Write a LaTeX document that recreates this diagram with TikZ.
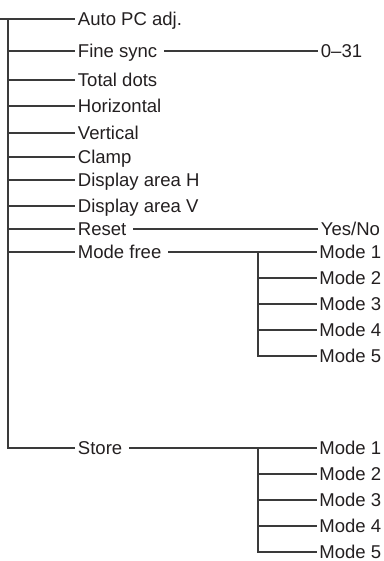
\documentclass[tikz,border=0pt]{standalone}
\usepackage{fontspec}
\setmainfont{Liberation Sans}
\definecolor{txt}{HTML}{231F20}
\definecolor{ln}{HTML}{3A3A3A}
\begin{document}
\begin{tikzpicture}[x=0.75pt,y=-0.75pt,
  lbl/.style={anchor=west,inner xsep=2pt,inner ysep=0pt,text height=9.9pt,text depth=0pt,
    font=\fontsize{13.9}{16}\selectfont,text=txt},
  conn/.style={draw=ln,line width=1pt},
  gap/.style={shorten <=3pt}]
\useasboundingbox (0,0) rectangle (384,561);
% first level
\node[lbl] (auto)  at (75,19)  {Auto PC adj.};
\node[lbl] (fine)  at (75,51)  {Fine sync};
\node[lbl] (dots)  at (75,80)  {Total dots};
\node[lbl] (hor)   at (75,106) {Horizontal};
\node[lbl] (ver)   at (75,133) {Vertical};
\node[lbl] (clamp) at (75,157) {Clamp};
\node[lbl] (dah)   at (75,180) {Display area H};
\node[lbl] (dav)   at (75,206) {Display area V};
\node[lbl] (reset) at (75,229) {Reset};
\node[lbl] (free)  at (75,252) {Mode free};
\node[lbl] (store) at (75,448) {Store};
% second level
\node[lbl] (range) at (318,51)  {0–31};
\node[lbl] (yesno) at (318,229) {Yes/No};
\node[lbl] (fm1) at (316.5,252) {Mode 1};
\node[lbl] (fm2) at (316.5,278) {Mode 2};
\node[lbl] (fm3) at (316.5,304) {Mode 3};
\node[lbl] (fm4) at (316.5,330) {Mode 4};
\node[lbl] (fm5) at (316.5,356) {Mode 5};
\node[lbl] (sm1) at (316.5,448) {Mode 1};
\node[lbl] (sm2) at (316.5,474) {Mode 2};
\node[lbl] (sm3) at (316.5,500) {Mode 3};
\node[lbl] (sm4) at (316.5,526) {Mode 4};
\node[lbl] (sm5) at (316.5,552) {Mode 5};
% connectors
\coordinate (in)  at (0,19);
\coordinate (top) at (8,19);
\coordinate (fj)  at (258,252);
\coordinate (sj)  at (258,448);
\draw[conn] (in) -- (auto.west);
\draw[conn] (top) |- (store.west);
\foreach \n in {fine,dots,hor,ver,clamp,dah,dav,reset,free}
  \draw[conn] (top |- \n.west) -- (\n.west);
\draw[conn,gap] (fine.east) -- (range.west);
\draw[conn,gap] (reset.east) -- (yesno.west);
\draw[conn,gap] (free.east) -- (fm1.west);
\draw[conn] (fj) |- (fm5.west);
\foreach \n in {fm2,fm3,fm4}
  \draw[conn] (fj |- \n.west) -- (\n.west);
\draw[conn,gap] (store.east) -- (sm1.west);
\draw[conn] (sj) |- (sm5.west);
\foreach \n in {sm2,sm3,sm4}
  \draw[conn] (sj |- \n.west) -- (\n.west);
\end{tikzpicture}
\end{document}
